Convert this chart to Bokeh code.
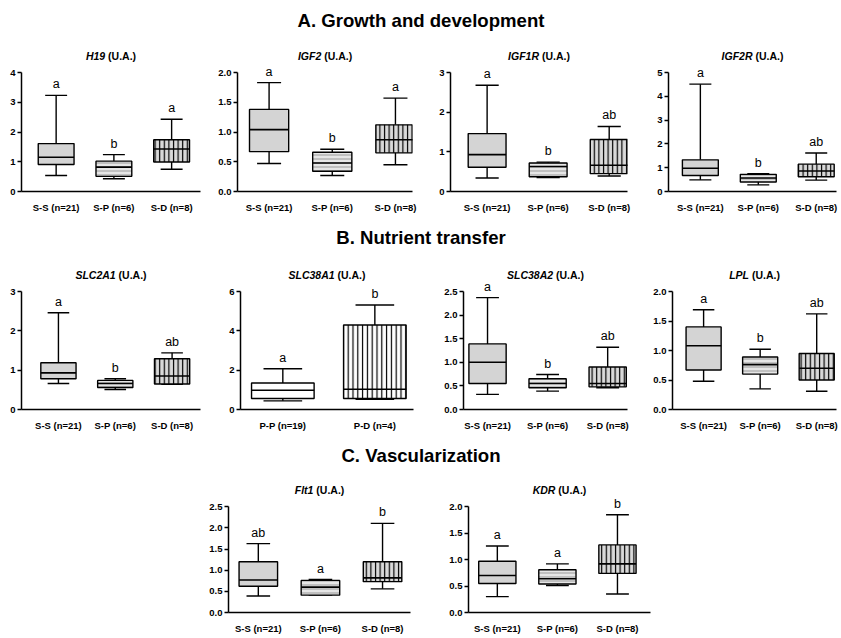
from bokeh.plotting import figure
from bokeh.models import Range1d, FixedTicker, ColumnDataSource, LabelSet, Label, Spacer, PrintfTickFormatter
from bokeh.layouts import column, row
from bokeh.embed import file_html
from bokeh.resources import INLINE
from bokeh.core.properties import value

FONT = "Liberation Sans"

# ---------------- data ----------------
groups3 = ["S-S (n=21)", "S-P (n=6)", "S-D (n=8)"]
groups2 = ["P-P (n=19)", "P-D (n=4)"]

section_A = "A. Growth and development"
section_B = "B. Nutrient transfer"
section_C = "C. Vascularization"

# box-plot statistics: whisker low, Q1, median, Q3, whisker high
H19_lo = [0.54, 0.43, 0.75]
H19_q1 = [0.91, 0.51, 0.99]
H19_med = [1.15, 0.82, 1.43]
H19_q3 = [1.61, 1.02, 1.74]
H19_hi = [3.23, 1.24, 2.43]
H19_sig = ["a", "b", "a"]
H19_ticks = [0, 1, 2, 3, 4]

IGF2_lo = [0.47, 0.27, 0.45]
IGF2_q1 = [0.67, 0.34, 0.65]
IGF2_med = [1.04, 0.48, 0.87]
IGF2_q3 = [1.38, 0.66, 1.12]
IGF2_hi = [1.83, 0.71, 1.57]
IGF2_sig = ["a", "b", "a"]
IGF2_ticks = [0, 0.5, 1.0, 1.5, 2.0]

IGF1R_lo = [0.34, 0.35, 0.39]
IGF1R_q1 = [0.61, 0.37, 0.45]
IGF1R_med = [0.93, 0.63, 0.66]
IGF1R_q3 = [1.46, 0.72, 1.31]
IGF1R_hi = [2.68, 0.74, 1.64]
IGF1R_sig = ["a", "b", "ab"]
IGF1R_ticks = [0, 1, 2, 3]

IGF2R_lo = [0.49, 0.28, 0.48]
IGF2R_q1 = [0.67, 0.40, 0.62]
IGF2R_med = [0.98, 0.57, 0.86]
IGF2R_q3 = [1.33, 0.72, 1.15]
IGF2R_hi = [4.51, 0.75, 1.62]
IGF2R_sig = ["a", "b", "ab"]
IGF2R_ticks = [0, 1, 2, 3, 4, 5]

SLC2A1_lo = [0.66, 0.51, 0.64]
SLC2A1_q1 = [0.78, 0.56, 0.65]
SLC2A1_med = [0.93, 0.66, 0.85]
SLC2A1_q3 = [1.19, 0.74, 1.29]
SLC2A1_hi = [2.46, 0.78, 1.44]
SLC2A1_sig = ["a", "b", "ab"]
SLC2A1_ticks = [0, 1, 2, 3]

SLC38A1_lo = [0.44, 0.52]
SLC38A1_q1 = [0.56, 0.56]
SLC38A1_med = [0.98, 1.03]
SLC38A1_q3 = [1.35, 4.30]
SLC38A1_hi = [2.07, 5.31]
SLC38A1_sig = ["a", "b"]
SLC38A1_ticks = [0, 2, 4, 6]

SLC38A2_lo = [0.32, 0.39, 0.46]
SLC38A2_q1 = [0.55, 0.46, 0.48]
SLC38A2_med = [1.00, 0.55, 0.55]
SLC38A2_q3 = [1.39, 0.65, 0.90]
SLC38A2_hi = [2.37, 0.74, 1.32]
SLC38A2_sig = ["a", "b", "ab"]
SLC38A2_ticks = [0, 0.5, 1.0, 1.5, 2.0, 2.5]

LPL_lo = [0.48, 0.35, 0.31]
LPL_q1 = [0.67, 0.60, 0.50]
LPL_med = [1.08, 0.76, 0.70]
LPL_q3 = [1.40, 0.89, 0.95]
LPL_hi = [1.69, 1.02, 1.62]
LPL_sig = ["a", "b", "ab"]
LPL_ticks = [0, 0.5, 1.0, 1.5, 2.0]

Flt1_lo = [0.39, 0.41, 0.56]
Flt1_q1 = [0.62, 0.41, 0.73]
Flt1_med = [0.77, 0.60, 0.82]
Flt1_q3 = [1.20, 0.76, 1.20]
Flt1_hi = [1.63, 0.78, 2.11]
Flt1_sig = ["ab", "a", "b"]
Flt1_ticks = [0, 0.5, 1.0, 1.5, 2.0, 2.5]

KDR_lo = [0.30, 0.51, 0.35]
KDR_q1 = [0.55, 0.54, 0.74]
KDR_med = [0.70, 0.64, 0.92]
KDR_q3 = [0.97, 0.81, 1.28]
KDR_hi = [1.26, 0.92, 1.85]
KDR_sig = ["a", "a", "b"]
KDR_ticks = [0, 0.5, 1.0, 1.5, 2.0]

# ---------------- styles ----------------
STYLE = {
    "S-S": dict(fill_color="#d4d4d4"),
    "S-P": dict(fill_color="#e6e6e6", hatch_pattern="horizontal_line", hatch_color="#9a9a9a", hatch_scale=4, hatch_weight=1.0),
    "S-D": dict(fill_color="#dadada", hatch_pattern="vertical_line", hatch_color="black", hatch_scale=4.6, hatch_weight=1.2),
    "P-P": dict(fill_color="white"),
    "P-D": dict(fill_color="white", hatch_pattern="vertical_line", hatch_color="black", hatch_scale=4.8, hatch_weight=1.2),
}

# Arial/Liberation Sans Bold advance widths (per 1000 em)
W = {"A": 722, "B": 722, "C": 722, "D": 722, "E": 667, "F": 611, "G": 778, "H": 722, "I": 278,
     "K": 722, "L": 611, "P": 667, "R": 722, "S": 667, "U": 722, "l": 278, "t": 333,
     "(": 333, ")": 333, ".": 278, " ": 278}


def tw(s, size):
    return sum(W.get(c, 556) for c in s) * size / 1000.0


def panel(gene, cats, lo, q1, med, q3, hi, sig, ticks, decimals,
          w, bl, br, xr, top_pad, ext, span, bb, box_w=0.62, cap_w=0.38):
    ytop = ticks[-1]
    yend = ytop * (span + ext) / span
    h = top_pad + ext + span + bb
    p = figure(width=w, height=h, x_range=Range1d(*xr), y_range=Range1d(0, yend),
               output_backend="svg", toolbar_location=None,
               min_border_left=bl, min_border_right=br, min_border_top=top_pad, min_border_bottom=bb)
    p.outline_line_color = None
    p.grid.visible = False
    p.background_fill_color = "white"
    p.border_fill_color = "white"
    xs = list(range(1, len(cats) + 1))

    lw = 1.4
    # whiskers
    p.segment(x0=xs, y0=q3, x1=xs, y1=hi, line_color="black", line_width=lw)
    p.segment(x0=xs, y0=q1, x1=xs, y1=lo, line_color="black", line_width=lw)
    cl = [x - cap_w / 2 for x in xs]
    cr = [x + cap_w / 2 for x in xs]
    p.segment(x0=cl, y0=hi, x1=cr, y1=hi, line_color="black", line_width=lw)
    p.segment(x0=cl, y0=lo, x1=cr, y1=lo, line_color="black", line_width=lw)
    # boxes
    for i, c in enumerate(cats):
        st = STYLE[c.split(" ")[0]]
        p.vbar(x=[xs[i]], bottom=[q1[i]], top=[q3[i]], width=box_w,
               line_color="black", line_width=lw, **st)
    # medians
    ml = [x - box_w / 2 for x in xs]
    mr = [x + box_w / 2 for x in xs]
    p.segment(x0=ml, y0=med, x1=mr, y1=med, line_color="black", line_width=1.6)

    # significance letters
    src = ColumnDataSource(dict(x=xs, y=hi, t=sig))
    p.add_layout(LabelSet(x="x", y="y", text="t", source=src, y_offset=4,
                          text_align="center", text_baseline="bottom",
                          text_font=value(FONT), text_font_size=value("12.5px"),
                          text_color=value("black")))

    # subtitle: italic gene + "(U.A.)"
    xc = (xr[0] + xr[1]) / 2.0
    fs = 10.5
    wg = tw(gene, fs)
    ws = tw(" ", fs)
    wu = tw("(U.A.)", fs)
    split = (wg - ws - wu) / 2.0
    p.add_layout(Label(x=xc, y=ytop, x_offset=split, y_offset=17, text=gene,
                       text_align="right", text_baseline="middle", text_font=FONT,
                       text_font_style="bold italic", text_font_size=f"{fs}px", text_color="black"))
    p.add_layout(Label(x=xc, y=ytop, x_offset=split + ws, y_offset=17, text="(U.A.)",
                       text_align="left", text_baseline="middle", text_font=FONT,
                       text_font_style="bold", text_font_size=f"{fs}px", text_color="black"))

    # axes
    p.xaxis.ticker = FixedTicker(ticks=xs)
    p.xaxis.major_label_overrides = {x: c for x, c in zip(xs, cats)}
    p.xaxis.major_tick_line_color = None
    p.xaxis.minor_tick_line_color = None
    p.xaxis.major_label_standoff = 4
    p.yaxis.ticker = FixedTicker(ticks=ticks)
    p.yaxis.bounds = (0, ytop)
    p.yaxis.formatter = PrintfTickFormatter(format="%.1f" if decimals else "%d")
    p.yaxis.major_tick_out = 4
    p.yaxis.major_tick_in = 0
    p.yaxis.minor_tick_line_color = None
    p.yaxis.major_label_standoff = 2
    for ax in (p.xaxis, p.yaxis):
        ax.axis_line_color = "black"
        ax.axis_line_width = 1.5
        ax.major_tick_line_width = 1.5
        ax.major_label_text_font = FONT
        ax.major_label_text_font_style = "bold"
        ax.major_label_text_font_size = "9.5px"
        ax.major_label_text_color = "black"
    return p


def section(text, h):
    p = figure(width=841, height=h, x_range=Range1d(0, 1), y_range=Range1d(0, 1),
               output_backend="svg", toolbar_location=None, min_border=0,
               x_axis_location=None, y_axis_location=None)
    p.grid.visible = False
    p.outline_line_color = None
    p.text(x=[0.5], y=[0.5], text=[text], text_align="center", text_baseline="middle",
           text_font=value(FONT), text_font_style="bold", text_font_size="18.6px", text_color="black")
    return p


R1 = dict(top_pad=4, ext=28, span=119, bb=31)
R2 = dict(top_pad=4, ext=35, span=118, bb=31)
R3 = dict(top_pad=4, ext=34, span=111, bb=17)

# Row 1
pA1 = panel("H19", groups3, H19_lo, H19_q1, H19_med, H19_q3, H19_hi, H19_sig, H19_ticks, False,
            211, 21, 11, (0.4, 3.5), **R1)
pA2 = panel("IGF2", groups3, IGF2_lo, IGF2_q1, IGF2_med, IGF2_q3, IGF2_hi, IGF2_sig, IGF2_ticks, True,
            219, 26, 18, (0.5, 3.27), **R1)
pA3 = panel("IGF1R", groups3, IGF1R_lo, IGF1R_q1, IGF1R_med, IGF1R_q3, IGF1R_hi, IGF1R_sig, IGF1R_ticks, False,
            218, 20, 21, (0.4, 3.3), **R1)
pA4 = panel("IGF2R", groups3, IGF2R_lo, IGF2R_q1, IGF2R_med, IGF2R_q3, IGF2R_hi, IGF2R_sig, IGF2R_ticks, False,
            193, 20, 5, (0.45, 3.35), **R1)

# Row 2
pB1 = panel("SLC2A1", groups3, SLC2A1_lo, SLC2A1_q1, SLC2A1_med, SLC2A1_q3, SLC2A1_hi, SLC2A1_sig, SLC2A1_ticks, False,
            220, 21, 20, (0.35, 3.5), **R2)
pB2 = panel("SLC38A1", groups2, SLC38A1_lo, SLC38A1_q1, SLC38A1_med, SLC38A1_q3, SLC38A1_hi, SLC38A1_sig, SLC38A1_ticks, False,
            217, 20, 24, (0.54, 2.42), box_w=0.68, cap_w=0.42, **R2)
pB3 = panel("SLC38A2", groups3, SLC38A2_lo, SLC38A2_q1, SLC38A2_med, SLC38A2_q3, SLC38A2_hi, SLC38A2_sig, SLC38A2_ticks, True,
            209, 26, 19, (0.6, 3.33), **R2)
pB4 = panel("LPL", groups3, LPL_lo, LPL_q1, LPL_med, LPL_q3, LPL_hi, LPL_sig, LPL_ticks, True,
            195, 26, 5, (0.45, 3.35), **R2)

# Row 3
pC1 = panel("Flt1", groups3, Flt1_lo, Flt1_q1, Flt1_med, Flt1_q3, Flt1_hi, Flt1_sig, Flt1_ticks, True,
            240, 26, 32, (0.52, 3.45), **R3)
pC2 = panel("KDR", groups3, KDR_lo, KDR_q1, KDR_med, KDR_q3, KDR_hi, KDR_sig, KDR_ticks, True,
            218, 26, 10, (0.52, 3.55), **R3)

layout = column(
    section(section_A, 40),
    row(pA1, pA2, pA3, pA4),
    section(section_B, 30),
    row(pB1, pB2, pB3, pB4),
    section(section_C, 30),
    row(Spacer(width=202, height=166), pC1, pC2),
)

open("out.html", "w").write(file_html(layout, INLINE))
